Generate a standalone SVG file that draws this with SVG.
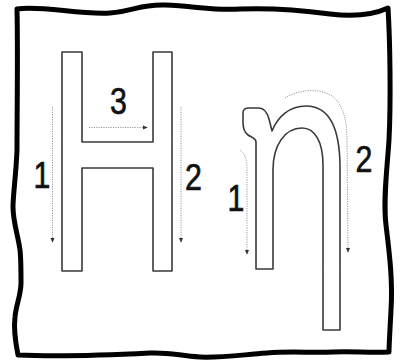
<svg xmlns="http://www.w3.org/2000/svg" width="404" height="364" viewBox="0 0 404 364">
<style>
.letter{fill:#fff;stroke:#3a3a3a;stroke-width:1.6;stroke-linejoin:round}
.arrow{fill:none;stroke:#9a9a9a;stroke-width:1;stroke-dasharray:1.2 1.2}
.num{font-family:"Liberation Sans",Arial,sans-serif;font-size:37px;fill:#111;stroke:#111;stroke-width:0.7;text-anchor:middle}
</style>
<defs>
<marker id="ah" viewBox="0 0 6 6" refX="5" refY="3" markerWidth="5" markerHeight="5" orient="auto" markerUnits="userSpaceOnUse">
<path d="M0,0.5 L6,3 L0,5.5 Z" fill="#333"/>
</marker>
</defs>
<rect width="404" height="364" fill="#fff"/>
<g id="frame">
<path d="M17,9 C40,5 80,15 110,13 C135,11 140,4 165,5 C195,6 215,11 240,9 C265,8 300,10 330,14 C355,17 375,14 388,8 C390,40 391,100 389,140 C387,170 383,200 386,225 C389,250 393,280 391,310 C390,330 389,345 389,352 C370,353 350,351 333,352 C310,353 290,351 267,353 C240,355 220,358 200,357 C180,356 170,352 150,353 C110,355 60,357 18,355 C15,340 14,325 15,317 C16,305 21,295 21,283 C21,270 21,258 20,250 C18,235 13,222 13,207 C13,195 16,175 17,150 C17,110 18,50 17,9 Z" fill="#fff" stroke="#000" stroke-width="5" stroke-linejoin="round"/>
</g>
<g id="letter-H">
<path class="letter" d="M62,52 L82,52 L82,142 L153,142 L153,52 L172,52 L172,271 L153,271 L153,168 L82,168 L82,271 L62,271 Z"/>
</g>
<g id="letter-eta">
<path class="letter" d="M256,269 L256,142 C256,138 251,137 248,135 C245,133 243,129 243,122 L243,113 C243,109 245,108 249,108 L259,108 C264,108 267,112 269,119 L272,131 C278,116 290,106 306,106 C328,106 340,126 340,168 L340,330 L323,330 L323,165 C323,142 315,128 302,128 C285,128 273,145 273,170 L273,269 Z"/>
</g>
<g id="connectors">
<path class="arrow" d="M52.5,107 L52.5,242" marker-end="url(#ah)"/>
<path class="arrow" d="M181,107 L181,242" marker-end="url(#ah)"/>
<path class="arrow" d="M89,127.5 L147,127.5" marker-end="url(#ah)"/>
<path class="arrow" d="M240,150 Q247,155 247,168 L247,254" marker-end="url(#ah)"/>
<path class="arrow" d="M285,98 C300,89 320,88 332,96 C343,104 347,120 347,140 L348,252" marker-end="url(#ah)"/>
</g>
<g id="labels">
<g transform="translate(42,188) scale(0.82,1)"><text class="num">1</text></g>
<g transform="translate(193.5,190) scale(0.82,1)"><text class="num">2</text></g>
<g transform="translate(118.5,114) scale(0.82,1)"><text class="num">3</text></g>
<g transform="translate(236,211) scale(0.82,1)"><text class="num">1</text></g>
<g transform="translate(364,172) scale(0.82,1)"><text class="num">2</text></g>
</g>
</svg>
